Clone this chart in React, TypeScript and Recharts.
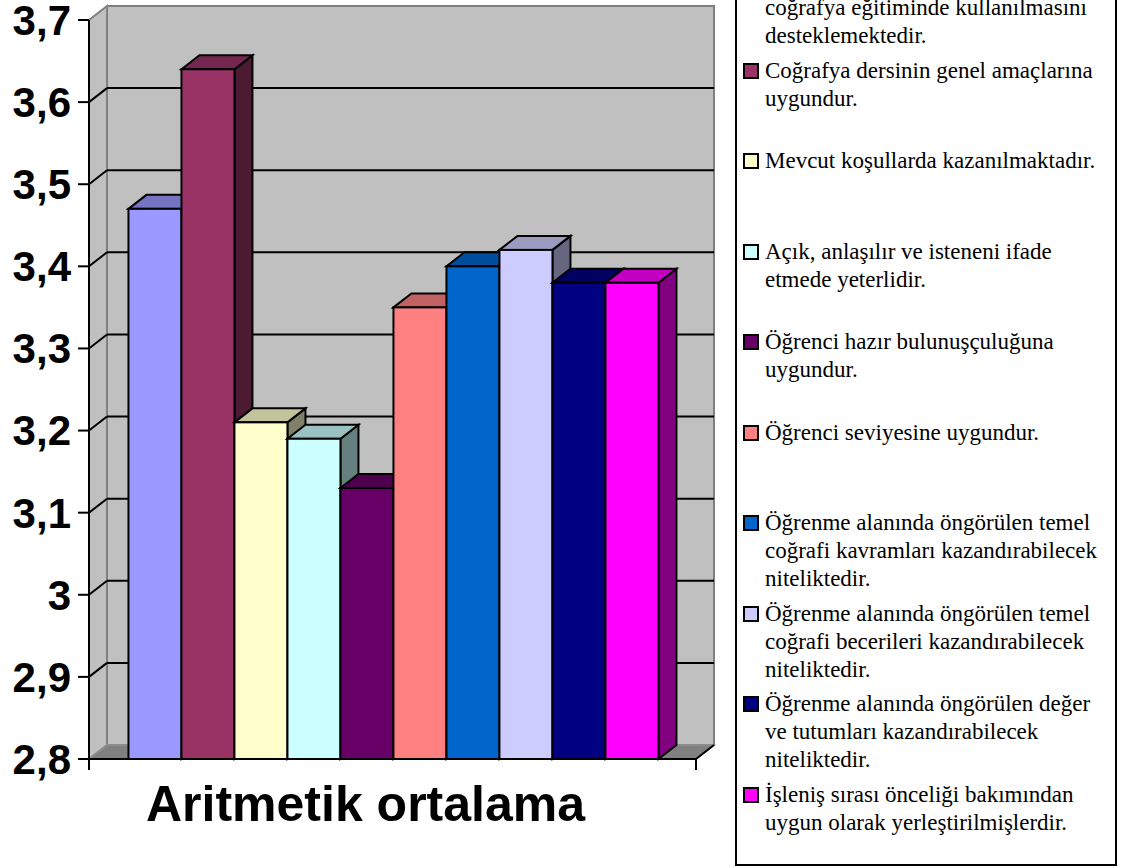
import React from "react";
import {
  BarChart,
  Bar,
  XAxis,
  YAxis,
  CartesianGrid,
  ReferenceArea,
  Legend,
} from "recharts";

const categories = ["Aritmetik ortalama"];

const seriesNames = [
  "Teknolojinin\ncoğrafya eğitiminde kullanılmasını\ndesteklemektedir.",
  "Coğrafya dersinin genel amaçlarına\nuygundur.",
  "Mevcut koşullarda kazanılmaktadır.",
  "Açık, anlaşılır ve isteneni ifade\netmede yeterlidir.",
  "Öğrenci hazır bulunuşçuluğuna\nuygundur.",
  "Öğrenci seviyesine uygundur.",
  "Öğrenme alanında öngörülen temel\ncoğrafi kavramları kazandırabilecek\nniteliktedir.",
  "Öğrenme alanında öngörülen temel\ncoğrafi becerileri kazandırabilecek\nniteliktedir.",
  "Öğrenme alanında öngörülen değer\nve tutumları kazandırabilecek\nniteliktedir.",
  "İşleniş sırası önceliği bakımından\nuygun olarak yerleştirilmişlerdir.",
];

const seriesValues = [3.47, 3.64, 3.21, 3.19, 3.13, 3.35, 3.4, 3.42, 3.38, 3.38];

const seriesColors = [
  "#9999FF",
  "#993366",
  "#FFFFCC",
  "#CCFFFF",
  "#660066",
  "#FF8080",
  "#0066CC",
  "#CCCCFF",
  "#000080",
  "#FF00FF",
];

const yTicks = [2.8, 2.9, 3.0, 3.1, 3.2, 3.3, 3.4, 3.5, 3.6, 3.7];

// one row per category, one key per series
const data = categories.map((name) => {
  const row: Record<string, any> = { name };
  seriesValues.forEach((v, i) => (row[`s${i}`] = v));
  return row;
});

// 3d depth offset
const DX = 18;
const DY = -14;
const PLOT_TOP = 20;
const PLOT_BOTTOM = 759;

const sans = '"Liberation Sans", Arial, sans-serif';
const serif = '"Liberation Serif", "Times New Roman", serif';

function shade(hex: string, f: number) {
  const n = parseInt(hex.slice(1), 16);
  const r = Math.round(((n >> 16) & 255) * f);
  const g = Math.round(((n >> 8) & 255) * f);
  const b = Math.round((n & 255) * f);
  return `rgb(${r},${g},${b})`;
}

function Bar3D(props: any) {
  const { x, y, width, height, fill } = props;
  if (width == null || height == null) return null;
  const r = x + width;
  const b = y + height;
  return (
    <g stroke="#000" strokeWidth={2}>
      <polygon
        points={`${r},${y} ${r + DX},${y + DY} ${r + DX},${b + DY} ${r},${b}`}
        fill={shade(fill, 0.5)}
      />
      <polygon
        points={`${x},${y} ${x + DX},${y + DY} ${r + DX},${y + DY} ${r},${y}`}
        fill={shade(fill, 0.76)}
      />
      <rect x={x} y={y} width={width} height={height} fill={fill} />
    </g>
  );
}

function Walls(props: any) {
  const { x, y, width, height } = props;
  const r = x + width;
  const b = y + height;
  return (
    <g>
      <polygon
        points={`${x + DX},${y + DY} ${r + DX},${y + DY} ${r + DX},${b + DY} ${x + DX},${b + DY}`}
        fill="#C0C0C0"
        stroke="#808080"
        strokeWidth={2}
      />
      <polygon
        points={`${x},${y} ${x + DX},${y + DY} ${x + DX},${b + DY} ${x},${b}`}
        fill="#C0C0C0"
        stroke="#808080"
        strokeWidth={2}
      />
      <polygon
        points={`${x},${b} ${x + DX},${b + DY} ${r + DX},${b + DY} ${r},${b}`}
        fill="#808080"
        stroke="#909090"
        strokeWidth={1.5}
      />
      <line x1={r} y1={b} x2={r + DX} y2={b + DY} stroke="#000" strokeWidth={2} />
      <line x1={x} y1={b} x2={x} y2={b + 11} stroke="#000" strokeWidth={2} />
      <line x1={r} y1={b} x2={r} y2={b + 11} stroke="#000" strokeWidth={2} />
    </g>
  );
}

function GridLine(props: any) {
  const { x1, x2, y1 } = props;
  if (y1 <= PLOT_TOP + 1 || y1 >= PLOT_BOTTOM - 1) return <g />;
  return (
    <g stroke="#000" strokeWidth={2}>
      <line x1={x1} y1={y1} x2={x1 + DX} y2={y1 + DY} />
      <line x1={x1 + DX} y1={y1 + DY} x2={x2 + DX} y2={y1 + DY} />
    </g>
  );
}

function CategoryTick(props: any) {
  const { x, y, payload } = props;
  return (
    <text
      x={x - 27}
      y={y + 62}
      textAnchor="middle"
      fontSize={50}
      fontWeight="bold"
      fontFamily={sans}
      fill="#000"
    >
      {payload.value}
    </text>
  );
}

function LegendBox() {
  return (
    <div
      style={{
        width: "100%",
        height: "100%",
        boxSizing: "border-box",
        border: "2px solid #000",
        background: "#fff",
        position: "relative",
        fontFamily: serif,
        fontSize: 23,
        lineHeight: "28px",
        color: "#000",
      }}
    >
      {seriesNames.map((name, i) => (
        <div
          key={i}
          style={{
            position: "absolute",
            left: 6,
            top: 24.4 + i * 90.5,
            display: "flex",
            alignItems: "flex-start",
          }}
        >
          <span
            style={{
              width: 16,
              height: 16,
              marginTop: 6,
              border: "2px solid #000",
              boxSizing: "border-box",
              background: seriesColors[i],
              flex: "none",
            }}
          />
          <div style={{ marginLeft: 6, whiteSpace: "pre" }}>{name}</div>
        </div>
      ))}
    </div>
  );
}

export default function App() {
  return (
    <div style={{ position: "absolute", left: 0, top: 0, background: "#fff" }}>
      <BarChart
        width={1123}
        height={867}
        data={data}
        margin={{ top: 20, right: 427, bottom: 0, left: 0 }}
        barGap={0}
        barCategoryGap="6.5%"
      >
        <ReferenceArea y1={2.8} y2={3.7} shape={Walls} zIndex={-200} ifOverflow="visible" />
        <CartesianGrid vertical={false} horizontal={GridLine} zIndex={-100} />
        <XAxis
          dataKey="name"
          height={108}
          tickLine={false}
          tickSize={0}
          tickMargin={0}
          axisLine={{ stroke: "#000", strokeWidth: 2 }}
          tick={CategoryTick}
        />
        <YAxis
          type="number"
          domain={[2.8, 3.7]}
          ticks={yTicks}
          interval={0}
          width={89}
          tickSize={11}
          tickMargin={7}
          axisLine={{ stroke: "#000", strokeWidth: 2 }}
          tickLine={{ stroke: "#000", strokeWidth: 2 }}
          tick={{ fill: "#000", fontSize: 42, fontWeight: "bold", fontFamily: sans }}
          tickFormatter={(v: number) => String(v).replace(".", ",")}
        />
        {seriesNames.map((name, i) => (
          <Bar
            key={i}
            dataKey={`s${i}`}
            name={name}
            fill={seriesColors[i]}
            shape={Bar3D}
            isAnimationActive={false}
          />
        ))}
        <Legend
          layout="horizontal"
          verticalAlign="middle"
          align="center"
          wrapperStyle={{ left: 735, top: -60, width: 382, height: 926 }}
          content={LegendBox}
        />
      </BarChart>
    </div>
  );
}
